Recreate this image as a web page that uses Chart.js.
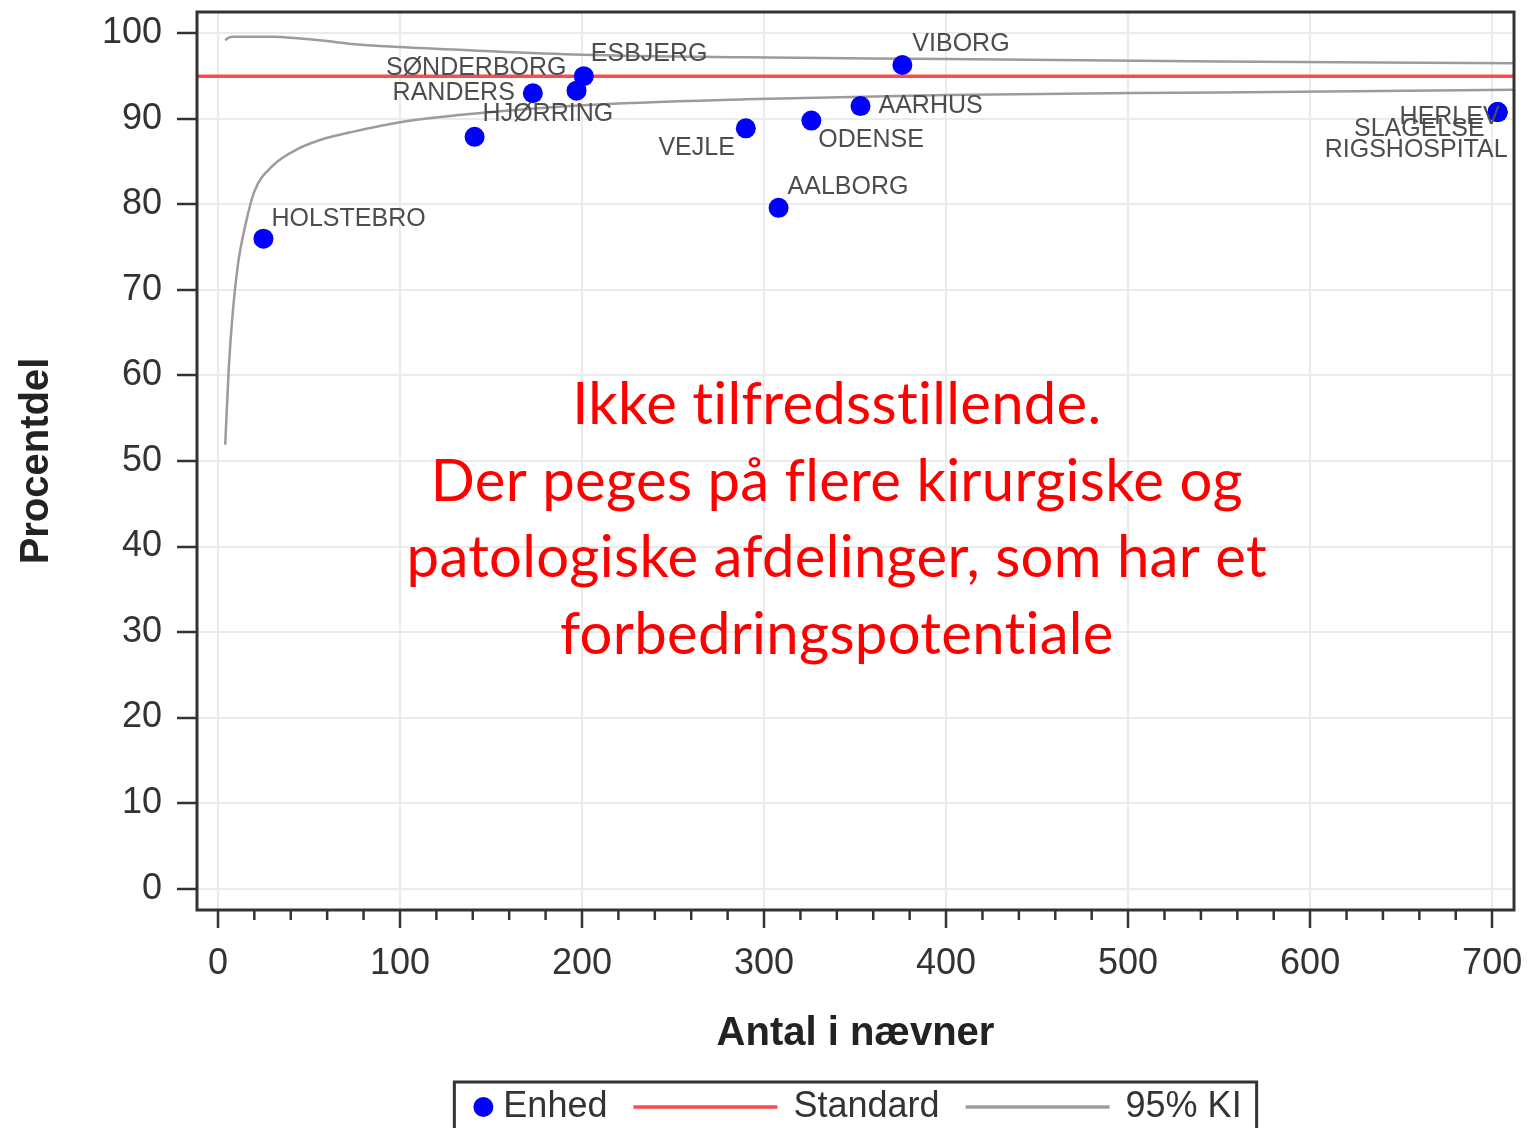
<!DOCTYPE html>
<html lang="da">
<head>
<meta charset="utf-8">
<title>Procentdel efter antal i nævner</title>
<script src="https://cdn.jsdelivr.net/npm/chart.js@4/dist/chart.umd.min.js"></script>
<style>
    html, body { margin: 0; padding: 0; background: #ffffff; }
    #wrap { width: 1530px; height: 1128px; }
</style>
</head>
<body>
<div id="wrap"><canvas id="funnelChart"></canvas></div>
<script>
// Enheder (afdelinger) med antal i nævner og procentdel
const enheder = ['HOLSTEBRO', 'HJØRRING', 'RANDERS', 'SØNDERBORG', 'ESBJERG', 'VEJLE', 'AALBORG',
                 'ODENSE', 'AARHUS', 'VIBORG', 'HERLEV', 'SLAGELSE', 'RIGSHOSPITAL'];
const naevner = [25, 141, 173, 197, 201, 290, 308, 326, 353, 376, 703, 703, 703];
const procent = [76.0, 87.9, 93.0, 93.3, 95.0, 88.9, 79.6, 89.8, 91.5, 96.3, 90.8, 90.8, 90.8];

// Standard (målopfyldelse)
const standard = 95;

// 95% KI tragt, aflæst langs kurverne
const kiNaevner = [4, 6, 8, 11, 15, 20, 30, 45, 60, 72, 100, 140, 200, 290, 400, 550, 712];
const kiOevre   = [99.2, 99.5, 99.6, 99.6, 99.6, 99.6, 99.6, 99.4, 99.1, 98.8, 98.4, 98.0, 97.5, 97.2, 97.0, 96.7, 96.5];
const kiNedre   = [51.9, 61.0, 67.0, 73.0, 77.5, 81.5, 84.5, 86.6, 87.8, 88.4, 89.6, 90.6, 91.6, 92.3, 92.8, 93.1, 93.4];

// Akser og tick labels
const xMin = -11.5, xMax = 712;
const yMin = -2.5, yMax = 102.5;
const xTicks = [0, 100, 200, 300, 400, 500, 600, 700];
const xMinorTicks = [20, 40, 60, 80, 120, 140, 160, 180, 220, 240, 260, 280, 320, 340, 360, 380,
                     420, 440, 460, 480, 520, 540, 560, 580, 620, 640, 660, 680];
const yTicks = [0, 10, 20, 30, 40, 50, 60, 70, 80, 90, 100];

// Tekst i midten af grafen
const kommentar = ['Ikke tilfredsstillende.', 'Der peges på flere kirurgiske og',
                   'patologiske afdelinger, som har et', 'forbedringspotentiale'];

// Placering af punkt-labels: [justering, dx, dy]
const labelPlacering = {
    HOLSTEBRO: ['left', 8, -20], 'HJØRRING': ['left', 8, -23], RANDERS: ['right', -18, 0],
    'SØNDERBORG': ['right', -10, -23], ESBJERG: ['left', 7, -22], VEJLE: ['right', -11, 20],
    AALBORG: ['left', 9, -21], ODENSE: ['left', 7, 19], AARHUS: ['left', 18, 0],
    VIBORG: ['left', 10, -21], HERLEV: ['right', 2, 5], SLAGELSE: ['right', -13, 17],
    RIGSHOSPITAL: ['right', 10, 38]
};

const FONT = "'Liberation Sans', Arial, sans-serif";
const BLAA = '#0000ff', ROED = '#ff4a4a', GRAA = '#9c9c9c';

// Ramme, små tick-streger, punkt-labels, kommentar og legende
const tegnPlugin = {
    id: 'tegnPlugin',
    afterDatasetsDraw(chart) {
        const ctx = chart.ctx;
        const meta = chart.getDatasetMeta(0);
        ctx.save();
        ctx.font = `25px ${FONT}`;
        ctx.fillStyle = '#4d4d4d';
        ctx.textBaseline = 'middle';
        meta.data.forEach((pt, i) => {
            const [align, dx, dy] = labelPlacering[enheder[i]];
            ctx.textAlign = align;
            ctx.fillText(enheder[i], pt.x + dx, pt.y + dy);
        });

        // rød kommentar, forankret i dataværdier
        const xs = chart.scales.x, ys = chart.scales.y;
        const cx = xs.getPixelForValue(340);
        const cy = ys.getPixelForValue(56.5);
        ctx.fillStyle = '#ff0000';
        ctx.textAlign = 'center';
        ctx.font = `58px Lato, 'Open Sans', sans-serif`;
        ctx.letterSpacing = '0.3px';
        kommentar.forEach((linje, i) => ctx.fillText(linje, cx, cy + i * 76.5));
        ctx.restore();
    },
    afterDraw(chart) {
        const ctx = chart.ctx;
        const a = chart.chartArea;
        const xs = chart.scales.x;
        ctx.save();
        // ramme om plotområdet
        ctx.strokeStyle = '#333333';
        ctx.lineWidth = 3;
        ctx.strokeRect(a.left, a.top, a.right - a.left, a.bottom - a.top);

        // små tick-streger på x-aksen
        ctx.lineWidth = 2.5;
        xMinorTicks.forEach(v => {
            const px = xs.getPixelForValue(v);
            ctx.beginPath();
            ctx.moveTo(px, a.bottom);
            ctx.lineTo(px, a.bottom + 10);
            ctx.stroke();
        });

        // legende i boks under x-aksens titel
        ctx.font = `36px ${FONT}`;
        ctx.textBaseline = 'middle';
        ctx.textAlign = 'left';
        const ds = chart.data.datasets;
        const elementer = [
            { tekst: 'Enhed', type: 'punkt', farve: ds[0].backgroundColor },
            { tekst: 'Standard', type: 'linje', farve: ds[1].borderColor },
            { tekst: '95% KI', type: 'linje', farve: ds[2].borderColor }
        ];
        const symbolBredde = { punkt: 20, linje: 144 };
        let bredde = 19 + 15;
        elementer.forEach((el, i) => {
            bredde += symbolBredde[el.type] + (el.type === 'punkt' ? 10 : 16) + ctx.measureText(el.tekst).width;
            if (i < elementer.length - 1) bredde += 26;
        });
        const midt = (a.left + a.right) / 2;
        const boksTop = 1082;
        let x = midt - bredde / 2;
        ctx.strokeStyle = '#333333';
        ctx.lineWidth = 3;
        ctx.strokeRect(x, boksTop, bredde, 80);
        const ty = boksTop + 25;
        x += 19;
        elementer.forEach((el, i) => {
            if (el.type === 'punkt') {
                ctx.fillStyle = el.farve;
                ctx.beginPath();
                ctx.arc(x + 10, ty, 10, 0, Math.PI * 2);
                ctx.fill();
                x += 20 + 10;
            } else {
                ctx.strokeStyle = el.farve;
                ctx.lineWidth = 3.5;
                ctx.beginPath();
                ctx.moveTo(x, ty);
                ctx.lineTo(x + 144, ty);
                ctx.stroke();
                x += 144 + 16;
            }
            ctx.fillStyle = '#333333';
            ctx.fillText(el.tekst, x, ty);
            x += ctx.measureText(el.tekst).width + 26;
        });
        ctx.restore();
    }
};

window.addEventListener('DOMContentLoaded', () => {
    const ctx = document.getElementById('funnelChart').getContext('2d');

    const punkter = naevner.map((n, i) => ({ x: n, y: procent[i] }));
    const oevre = kiNaevner.map((n, i) => ({ x: n, y: kiOevre[i] }));
    const nedre = kiNaevner.map((n, i) => ({ x: n, y: kiNedre[i] }));

    new Chart(ctx, {
        type: 'scatter',
        data: {
            datasets: [
                { label: 'Enhed', data: punkter, backgroundColor: BLAA, borderWidth: 0, pointRadius: 10 },
                { label: 'Standard', data: [{ x: xMin, y: standard }, { x: xMax, y: standard }],
                  showLine: true, borderColor: ROED, borderWidth: 3.5, pointRadius: 0 },
                { label: '95% KI', data: oevre, showLine: true, borderColor: GRAA, borderWidth: 2.5,
                  pointRadius: 0, cubicInterpolationMode: 'monotone' },
                { label: '95% KI nedre', data: nedre, showLine: true, borderColor: GRAA, borderWidth: 2.5,
                  pointRadius: 0, cubicInterpolationMode: 'monotone' }
            ]
        },
        options: {
            responsive: true,
            maintainAspectRatio: false,
            animation: false,
            layout: { padding: { top: 12, right: 16, bottom: 0, left: 0 } },
            plugins: { legend: { display: false }, tooltip: { enabled: false } },
            scales: {
                x: {
                    type: 'linear', min: xMin, max: xMax,
                    afterBuildTicks: s => { s.ticks = xTicks.map(v => ({ value: v })); },
                    afterFit: s => { s.height = 218; s.paddingLeft = 0; s.paddingRight = 0; },
                    grid: { color: '#ebebeb', lineWidth: 2, tickColor: '#333333', tickLength: 18, tickWidth: 2.5 },
                    border: { display: false },
                    ticks: { color: '#333333', font: { family: FONT, size: 36 }, padding: 14, maxRotation: 0 },
                    title: { display: true, text: 'Antal i nævner', color: '#222222',
                             font: { family: FONT, size: 40, weight: 'bold' }, padding: { top: 0, bottom: 70 } }
                },
                y: {
                    type: 'linear', min: yMin, max: yMax,
                    afterBuildTicks: s => { s.ticks = yTicks.map(v => ({ value: v })); },
                    afterFit: s => { s.width = 197; s.paddingTop = 0; s.paddingBottom = 0; },
                    grid: { color: '#ebebeb', lineWidth: 2, tickColor: '#333333', tickLength: 20, tickWidth: 2.5 },
                    border: { display: false },
                    ticks: { color: '#333333', font: { family: FONT, size: 36 }, padding: 15 },
                    title: { display: true, text: 'Procentdel', color: '#222222',
                             font: { family: FONT, size: 40, weight: 'bold' }, padding: { top: 13, bottom: 0 } }
                }
            }
        },
        plugins: [tegnPlugin]
    });
});
</script>
</body>
</html>
